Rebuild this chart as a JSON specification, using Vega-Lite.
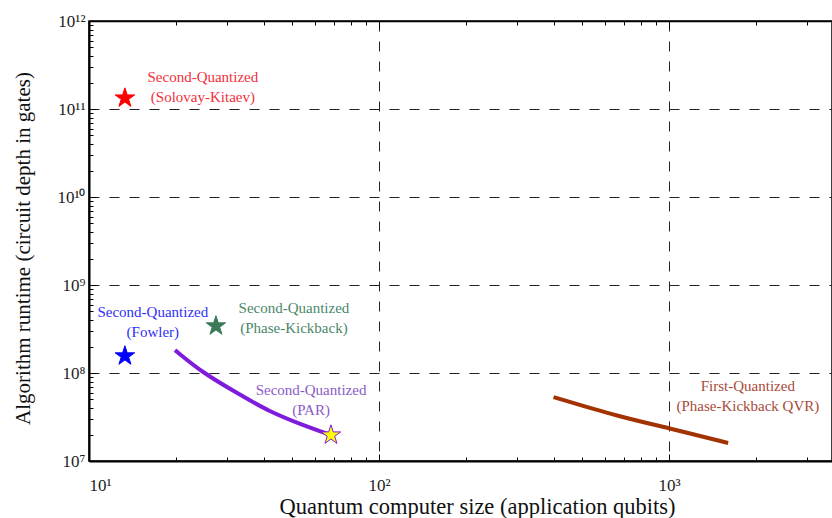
{
  "$schema": "https://vega.github.io/schema/vega-lite/v6.json",
  "width": 743,
  "height": 440,
  "autosize": "none",
  "padding": {"left": 89, "top": 21, "right": 0, "bottom": 57},
  "background": "white",
  "config": {
    "font": "Liberation Serif",
    "view": {"stroke": "#000000", "strokeWidth": 1.5},
    "text": {"font": "Liberation Serif"},
    "axis": {
      "labelFont": "Liberation Serif",
      "titleFont": "Liberation Serif",
      "labelColor": "#222222",
      "titleColor": "#111111",
      "titleFontWeight": "normal",
      "domainColor": "#000000",
      "tickColor": "#000000",
      "labelFontSize": 17,
      "titleFontSize": 21
    }
  },
  "datasets": {
    "curves": [
      {"series": "PAR", "qubits": 19.8, "depth": 1.82e8},
      {"series": "PAR", "qubits": 24.7, "depth": 1.0e8},
      {"series": "PAR", "qubits": 32.4, "depth": 5.93e7},
      {"series": "PAR", "qubits": 42.0, "depth": 3.61e7},
      {"series": "PAR", "qubits": 54.7, "depth": 2.56e7},
      {"series": "PAR", "qubits": 68.3, "depth": 1.97e7},
      {"series": "QVR", "qubits": 400, "depth": 5.33e7},
      {"series": "QVR", "qubits": 678, "depth": 3.16e7},
      {"series": "QVR", "qubits": 1000, "depth": 2.37e7},
      {"series": "QVR", "qubits": 1600, "depth": 1.6e7}
    ],
    "stars": [
      {"method": "Solovay-Kitaev", "qubits": 13.3, "depth": 1.33e11},
      {"method": "Fowler", "qubits": 13.3, "depth": 1.56e8},
      {"method": "Phase-Kickback", "qubits": 27.4, "depth": 3.42e8},
      {"method": "PAR", "qubits": 68.3, "depth": 1.97e7}
    ],
    "annotations": [
      {"method": "Solovay-Kitaev", "qubits": 24.7, "depth": 2.31e11, "text": "Second-Quantized\n(Solovay-Kitaev)"},
      {"method": "Fowler", "qubits": 16.6, "depth": 4.93e8, "text": "Second-Quantized\n(Fowler)"},
      {"method": "Phase-Kickback", "qubits": 50.9, "depth": 5.48e8, "text": "Second-Quantized\n(Phase-Kickback)"},
      {"method": "PAR", "qubits": 58.3, "depth": 6.41e7, "text": "Second-Quantized\n(PAR)"},
      {"method": "QVR", "qubits": 1871, "depth": 7.11e7, "text": "First-Quantized\n(Phase-Kickback QVR)"}
    ]
  },
  "encoding": {
    "x": {
      "field": "qubits", "type": "quantitative",
      "scale": {"type": "log", "domain": [10, 3650], "nice": false},
      "axis": {
        "orient": "bottom",
        "title": "Quantum computer size (application qubits)",
        "titleFontSize": 22.5,
        "titlePadding": 2,
        "titleX": 388,
        "values": [10, 20, 30, 40, 50, 60, 70, 80, 90, 100, 200, 300, 400, 500, 600, 700, 800, 900, 1000, 2000, 3000],
        "labelExpr": "indexof([10,100,1000], datum.value) >= 0 ? '10' + ['⁰','¹','²','³','⁴'][round(log(datum.value)/LN10)] : ''",
        "tickSize": {"condition": {"test": "indexof([10,100,1000], datum.value) >= 0", "value": -7}, "value": -4},
        "labelPadding": 23,
        "domainWidth": 2,
        "grid": true,
        "gridDash": [10, 10],
        "gridColor": "#222222",
        "gridWidth": 1,
        "gridOpacity": {"condition": {"test": "indexof([100,1000], datum.value) >= 0", "value": 1}, "value": 0}
      }
    },
    "y": {
      "field": "depth", "type": "quantitative",
      "scale": {"type": "log", "domain": [1e7, 1e12], "nice": false},
      "axis": {
        "orient": "left",
        "title": "Algorithm runtime (circuit depth in gates)",
        "titlePadding": 23,
        "titleY": 227,
        "values": [1e7, 2e7, 3e7, 4e7, 5e7, 6e7, 7e7, 8e7, 9e7, 1e8, 2e8, 3e8, 4e8, 5e8, 6e8, 7e8, 8e8, 9e8, 1e9, 2e9, 3e9, 4e9, 5e9, 6e9, 7e9, 8e9, 9e9, 1e10, 2e10, 3e10, 4e10, 5e10, 6e10, 7e10, 8e10, 9e10, 1e11, 2e11, 3e11, 4e11, 5e11, 6e11, 7e11, 8e11, 9e11, 1e12],
        "labelExpr": "abs(log(datum.value)/LN10 - round(log(datum.value)/LN10)) < 0.001 ? '10' + ['⁰','¹','²','³','⁴','⁵','⁶','⁷','⁸','⁹','¹⁰','¹¹','¹²'][round(log(datum.value)/LN10)] : ''",
        "tickSize": {"condition": {"test": "abs(log(datum.value)/LN10 - round(log(datum.value)/LN10)) < 0.001", "value": -7}, "value": -4},
        "labelPadding": 11,
        "domainWidth": 2,
        "grid": true,
        "gridDash": [10, 10],
        "gridColor": "#222222",
        "gridWidth": 1,
        "gridOpacity": {"condition": {"test": "abs(log(datum.value)/LN10 - round(log(datum.value)/LN10)) < 0.001 && datum.value > 1.5e7 && datum.value < 5e11", "value": 1}, "value": 0}
      }
    }
  },
  "layer": [
    {
      "data": {"name": "curves"},
      "mark": {"type": "line", "strokeWidth": 4, "interpolate": "basis"},
      "encoding": {
        "color": {
          "field": "series", "type": "nominal",
          "scale": {"domain": ["PAR", "QVR"], "range": ["#7f1bdc", "#a23300"]},
          "legend": null
        }
      }
    },
    {
      "data": {"name": "stars"},
      "mark": {
        "type": "point",
        "shape": "M0,-1L0.2245,-0.309L0.9511,-0.309L0.3633,0.118L0.5878,0.809L0,0.382L-0.5878,0.809L-0.3633,0.118L-0.9511,-0.309L-0.2245,-0.309Z",
        "filled": true, "opacity": 1, "strokeWidth": 1
      },
      "encoding": {
        "x": {
          "field": "qubits", "type": "quantitative",
          "scale": {"type": "log", "domain": [10, 3650], "nice": false},
          "axis": null
        },
        "size": {"value": 420},
        "fill": {
          "field": "method", "type": "nominal",
          "scale": {"domain": ["Solovay-Kitaev", "Fowler", "Phase-Kickback", "PAR"], "range": ["#ff0000", "#0000ff", "#3b7a58", "#ffff00"]},
          "legend": null
        },
        "stroke": {
          "field": "method", "type": "nominal",
          "scale": {"domain": ["Solovay-Kitaev", "Fowler", "Phase-Kickback", "PAR"], "range": ["#ff0000", "#0000ff", "#3b7a58", "#7f1bdc"]},
          "legend": null
        }
      }
    },
    {
      "data": {"name": "annotations"},
      "mark": {"type": "text", "font": "Liberation Serif", "fontSize": 15, "align": "center", "baseline": "middle", "lineBreak": "\n", "lineHeight": 20},
      "encoding": {
        "x": {
          "field": "qubits", "type": "quantitative",
          "scale": {"type": "log", "domain": [10, 3650], "nice": false},
          "axis": {
            "orient": "top", "title": null, "labels": false, "grid": false,
            "values": [20, 30, 40, 50, 60, 70, 80, 90, 100, 200, 300, 400, 500, 600, 700, 800, 900, 1000, 2000, 3000],
            "tickSize": {"condition": {"test": "indexof([100,1000], datum.value) >= 0", "value": -7}, "value": -4},
            "domainWidth": 1.5
          }
        },
        "text": {"field": "text"},
        "color": {
          "field": "method", "type": "nominal",
          "scale": {"domain": ["Solovay-Kitaev", "Fowler", "Phase-Kickback", "PAR", "QVR"], "range": ["#f2303c", "#3030f5", "#4a876a", "#8a5cc6", "#a84a3a"]},
          "legend": null
        }
      }
    }
  ],
  "resolve": {
    "axis": {"x": "independent"},
    "scale": {"color": "independent", "fill": "independent", "stroke": "independent"}
  }
}
